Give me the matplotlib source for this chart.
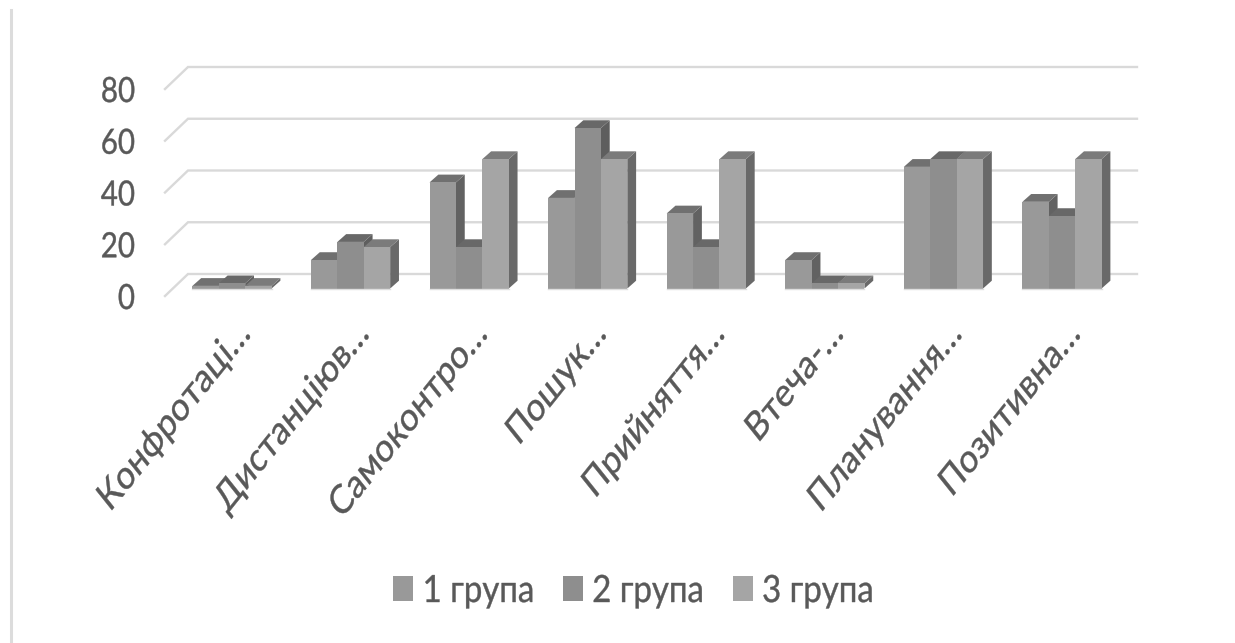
import matplotlib
matplotlib.use("Agg")
import matplotlib.pyplot as plt
from matplotlib.lines import Line2D
from matplotlib.patches import Patch, Polygon
from matplotlib.patheffects import AbstractPathEffect
from matplotlib.transforms import Affine2D, ScaledTranslation

W, H, DPI = 1235, 643, 100

categories = ["Конфротаці…", "Дистанціюв…", "Самоконтро…", "Пошук…",
              "Прийняття…", "Втеча-…", "Планування…", "Позитивна…"]
series_names = ["1 група", "2 група", "3 група"]
group1 = [1, 11, 41, 35, 29, 11, 47, 33.5]
group2 = [2, 18, 16, 62, 16, 2, 50, 28]
group3 = [1, 16, 50, 50, 50, 2, 50, 50]
yticks = [0, 20, 40, 60, 80]

FRONT = ["#999999", "#8e8e8e", "#a5a5a5"]
TOP = ["#707070", "#686868", "#7b7b7b"]
SIDE = ["#626262", "#5e5e5e", "#696969"]
GRID = "#d9d9d9"
TEXT = "#595959"

# px per data unit, used to express the fake 3D offsets in data coordinates
PX_X = 118.57
PX_Y = 2.5875
BAR_W = 26.4 / PX_X
DEPTH_X = 8.8 / PX_X
DEPTH_Y = 7.8 / PX_Y
WALL_X = 23 / PX_X
WALL_Y = 14.5 / PX_Y   # back wall sits above the bar baseline
FLOOR_Y = -7.5 / PX_Y  # front edge of the floor sits below it


class Squeeze(AbstractPathEffect):
    """Narrow drawn text along the screen x axis, keeping one end of it fixed."""

    def __init__(self, sx, keep="right", stroke=0.3):
        super().__init__()
        self.sx = sx
        self.keep = keep
        self.stroke = stroke

    def draw_path(self, renderer, gc, tpath, affine, rgbFace=None):
        box = tpath.get_extents()
        px = affine.transform_point((box.x1 if self.keep == "right" else box.x0, 0))[0]
        squeezed = affine + Affine2D().translate(-px, 0).scale(self.sx, 1).translate(px, 0)
        # thin outline makes up for the stroke width lost by narrowing
        gc0 = renderer.new_gc()
        gc0.copy_properties(gc)
        gc0.set_linewidth(self.stroke)
        gc0.set_foreground(rgbFace)
        renderer.draw_path(gc0, tpath, squeezed, rgbFace)
        gc0.restore()


plt.rcParams["font.family"] = ["Lato", "DejaVu Sans"]

fig = plt.figure(figsize=(W / DPI, H / DPI), dpi=DPI)
ax = fig.add_axes([165 / W, 1 - 296 / H, (1137 - 165) / W, (296 - 67) / H])
ax.set_xlim((165 - 232) / PX_X, (1137 - 232) / PX_X)
ax.set_ylim(FLOOR_Y, (288.5 - 67) / PX_Y)
for s in ax.spines.values():
    s.set_visible(False)
ax.patch.set_alpha(0)

# gridlines: flat on the back wall, diagonal along the side wall
x0 = ax.get_xlim()[0]
x1 = ax.get_xlim()[1]
for v in yticks:
    ax.plot([x0, x0 + WALL_X, x1], [v + FLOOR_Y, v + WALL_Y, v + WALL_Y],
            color=GRID, lw=1.7, solid_joinstyle="miter", clip_on=False, zorder=1)

# bars, left to right, so each front face hides the neighbour's side
for i in range(len(categories)):
    for j, vals in enumerate([group1, group2, group3]):
        left = i + (j - 1.5) * BAR_W
        right = left + BAR_W
        v = vals[i]
        ax.add_patch(Polygon([(right, 0), (right + DEPTH_X, DEPTH_Y),
                              (right + DEPTH_X, v + DEPTH_Y), (right, v)],
                             facecolor=SIDE[j], edgecolor="none", zorder=2))
        ax.add_patch(Polygon([(left, v), (left + DEPTH_X, v + DEPTH_Y),
                              (right + DEPTH_X, v + DEPTH_Y), (right, v)],
                             facecolor=TOP[j], edgecolor="none", zorder=2))
        ax.bar(left, v, width=BAR_W, align="edge", color=FRONT[j], zorder=2)
    ax.plot([i - 1.5 * BAR_W, i + 1.5 * BAR_W], [0, 0], color="#dedede", lw=1, zorder=3)

ax.set_yticks(yticks)
ax.set_yticklabels([str(v) for v in yticks], fontsize=25, color=TEXT)
ax.tick_params(axis="y", length=0, pad=21.5)
down = ScaledTranslation(0, -7.5 / DPI, fig.dpi_scale_trans)
for lab in ax.get_yticklabels():
    lab.set_transform(lab.get_transform() + down)
    lab.set_path_effects([Squeeze(0.85)])

ax.set_xticks(range(len(categories)))
ax.set_xticklabels(categories, fontsize=29, color=TEXT, rotation=45,
                   ha="right", va="top", rotation_mode="anchor")
ax.tick_params(axis="x", length=0, pad=13)
shift = ScaledTranslation(-1 / DPI, 0, fig.dpi_scale_trans)
for lab in ax.get_xticklabels():
    lab.set_transform(lab.get_transform() + shift)
    lab.set_path_effects([Squeeze(0.80)])

handles = [Patch(facecolor=c, edgecolor="none") for c in FRONT]
leg = fig.legend(handles, series_names, ncol=3, frameon=False, fontsize=27,
                 labelcolor=TEXT, loc="center left", bbox_to_anchor=(393 / W, 1 - 591 / H),
                 borderpad=0, borderaxespad=0, handlelength=0.53, handleheight=0.64,
                 handletextpad=0.25, columnspacing=0.36)
for t in leg.get_texts():
    t.set_path_effects([Squeeze(0.88, keep="left")])

# thin rule down the left side of the page
fig.add_artist(Line2D([10.5 / W, 10.5 / W], [1 - 10 / H, 0], color="#dcdcdc", lw=2.2))

fig.savefig("out.png", dpi=DPI)
